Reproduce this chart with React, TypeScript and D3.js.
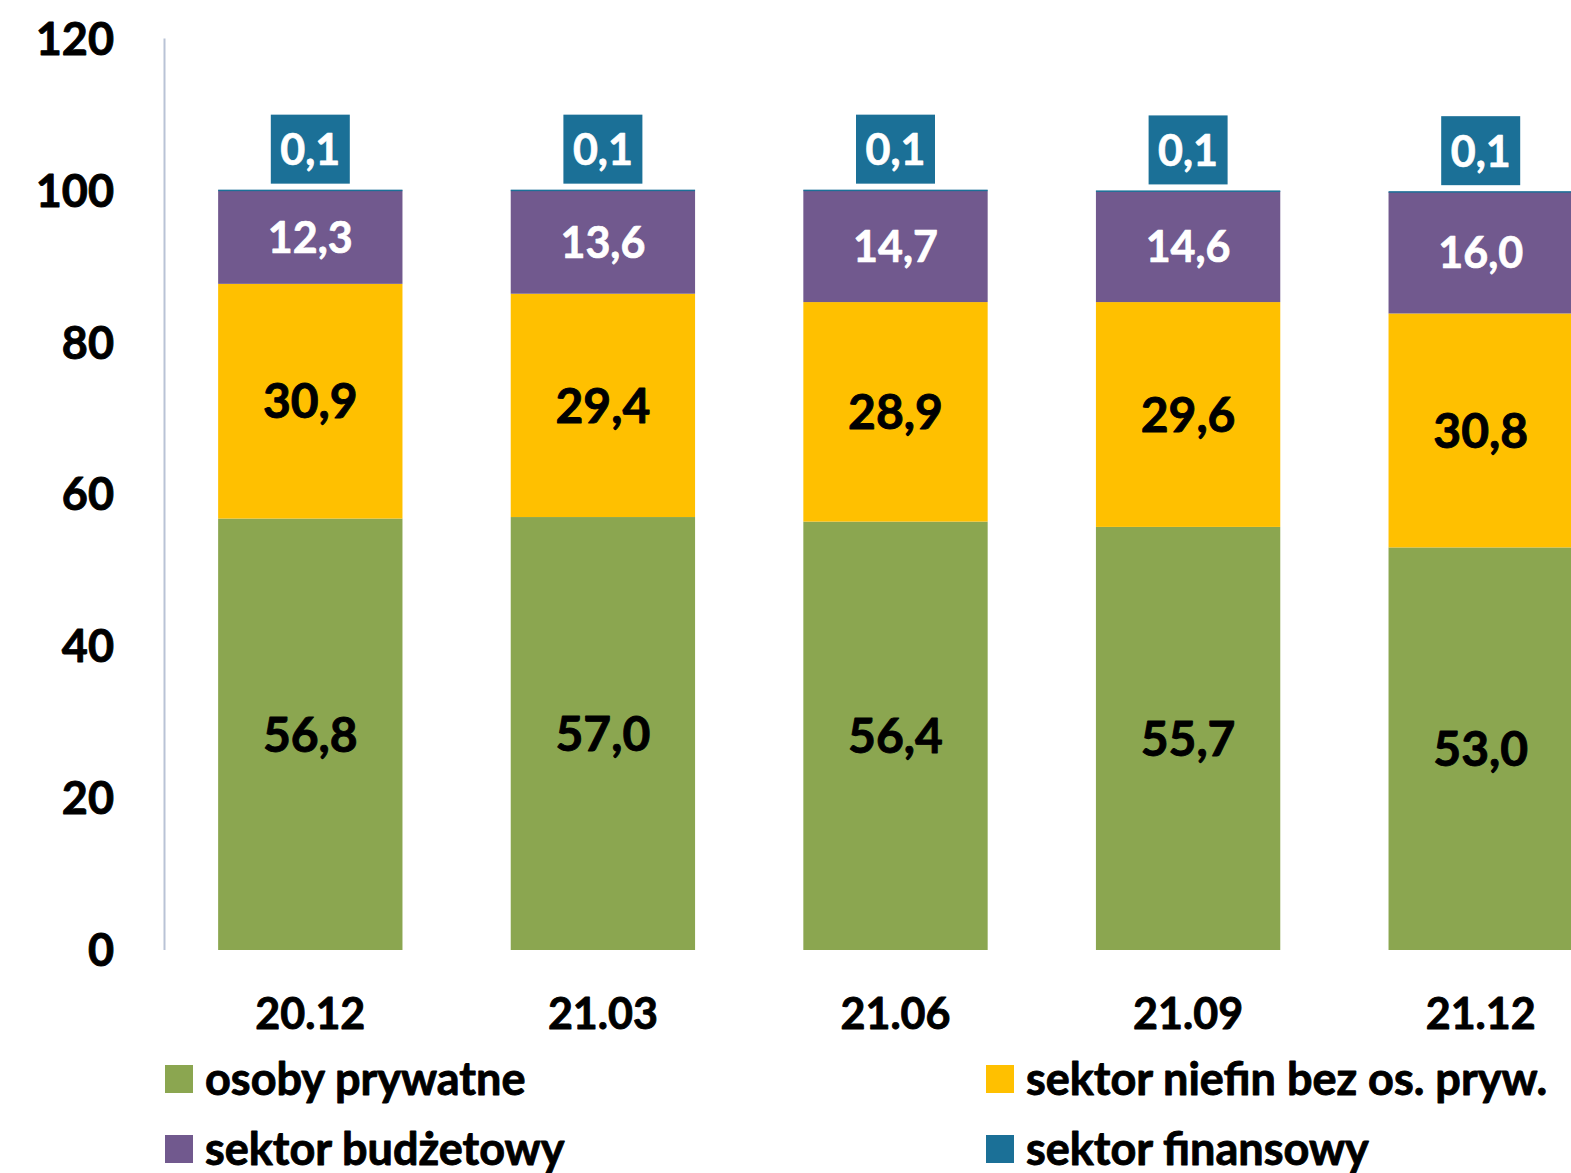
import * as d3 from 'd3';
import { useEffect, useRef } from 'react';

const categories = ['20.12', '21.03', '21.06', '21.09', '21.12'];
const seriesNames = ['osoby prywatne', 'sektor niefin bez os. pryw.', 'sektor budżetowy', 'sektor finansowy'];
const osobyPrywatne = [56.8, 57.0, 56.4, 55.7, 53.0];
const sektorNiefin = [30.9, 29.4, 28.9, 29.6, 30.8];
const sektorBudzetowy = [12.3, 13.6, 14.7, 14.6, 16.0];
const sektorFinansowy = [0.1, 0.1, 0.1, 0.1, 0.1];
const yTicks = [0, 20, 40, 60, 80, 100, 120];

const colors = ['#8BA650', '#FFC000', '#71598E', '#1B7097'];
const labelColors = ['#000', '#000', '#fff', '#fff'];
const FONT = 'Lato, Carlito, Calibri, sans-serif';

export default function App() {
  const svgRef = useRef<SVGSVGElement>(null);

  useEffect(() => {
    const svg = d3.select(svgRef.current);
    svg.selectAll('*').remove();

    const keys = ['p', 'n', 'b', 'f'];
    const rows = categories.map((c, i) => ({
      cat: c,
      p: osobyPrywatne[i],
      n: sektorNiefin[i],
      b: sektorBudzetowy[i],
      f: sektorFinansowy[i],
    }));

    const x = d3.scaleBand()
      .domain(categories)
      .range([164, 1627])
      .paddingInner(0.37)
      .paddingOuter(0.185);

    const y = d3.scaleLinear().domain([0, 120]).range([950, 38.5]);

    const stacked = d3.stack<any>().keys(keys)(rows);

    // heavier text, closer to the original bold face
    const bolden = (sel: any, color: string, w = 0.9) =>
      sel.attr('stroke', color).attr('stroke-width', w).attr('stroke-linejoin', 'round');

    // axis line
    svg.append('line')
      .attr('x1', 164.5).attr('x2', 164.5)
      .attr('y1', y(120)).attr('y2', y(0))
      .attr('stroke', '#B9C3D6').attr('stroke-width', 2);

    // y tick labels
    bolden(svg.append('g').selectAll('text')
      .data(yTicks)
      .join('text')
      .attr('x', 114)
      .attr('y', d => y(d))
      .attr('dy', '0.36em')
      .attr('text-anchor', 'end')
      .style('font', `bold 45px ${FONT}`)
      .attr('fill', '#000')
      .text(d => d), '#000');

    // bars
    stacked.forEach((layer, li) => {
      const g = svg.append('g');
      g.selectAll('rect')
        .data(layer)
        .join('rect')
        .attr('x', d => x(d.data.cat)!)
        .attr('width', x.bandwidth())
        .attr('y', d => y(d[1]))
        .attr('height', d => Math.max(1.5, y(d[0]) - y(d[1])))
        .attr('fill', colors[li]);
    });

    // labels
    stacked.forEach((layer, li) => {
      const g = svg.append('g');
      if (li === 3) {
        layer.forEach(d => {
          const cx = x(d.data.cat)! + x.bandwidth() / 2;
          const top = y(d[1]);
          g.append('rect')
            .attr('x', cx - 39.5)
            .attr('y', top - 75)
            .attr('width', 79)
            .attr('height', 69)
            .attr('fill', colors[3]);
          bolden(g.append('text')
            .attr('x', cx)
            .attr('y', top - 40)
            .attr('dy', '0.36em')
            .attr('text-anchor', 'middle')
            .style('font', `bold 43px ${FONT}`)
            .attr('fill', '#fff')
            .text((d[1] - d[0]).toFixed(1).replace('.', ',')), '#fff', 0.7);
        });
        return;
      }
      bolden(g.selectAll('text')
        .data(layer)
        .join('text')
        .attr('x', d => x(d.data.cat)! + x.bandwidth() / 2)
        .attr('y', d => (y(d[0]) + y(d[1])) / 2)
        .attr('dy', '0.36em')
        .attr('text-anchor', 'middle')
        .style('font', `bold ${li === 2 ? 43 : 48}px ${FONT}`)
        .attr('fill', labelColors[li])
        .text(d => (d[1] - d[0]).toFixed(1).replace('.', ',')), labelColors[li], li === 2 ? 0.7 : 0.9);
    });

    // category labels
    bolden(svg.append('g').selectAll('text')
      .data(categories)
      .join('text')
      .attr('x', d => x(d)! + x.bandwidth() / 2)
      .attr('y', 1014)
      .attr('dy', '0.36em')
      .attr('text-anchor', 'middle')
      .style('font', `bold 43px ${FONT}`)
      .attr('fill', '#000')
      .text(d => d), '#000');

    // legend
    const legendPos = [[165, 1065], [986, 1065], [165, 1135], [986, 1135]];
    seriesNames.forEach((name, i) => {
      const [lx, ly] = legendPos[i];
      svg.append('rect')
        .attr('x', lx).attr('y', ly)
        .attr('width', 28).attr('height', 28)
        .attr('fill', colors[i]);
      bolden(svg.append('text')
        .attr('x', lx + 40)
        .attr('y', ly + 14)
        .attr('dy', '0.36em')
        .style('font', `bold 45px ${FONT}`)
        .attr('fill', '#000')
        .text(name), '#000');
    });
  }, []);

  return (
    <svg
      ref={svgRef}
      width={1571}
      height={1173}
      style={{ position: 'absolute', left: 0, top: 0, background: '#fff' }}
    />
  );
}
